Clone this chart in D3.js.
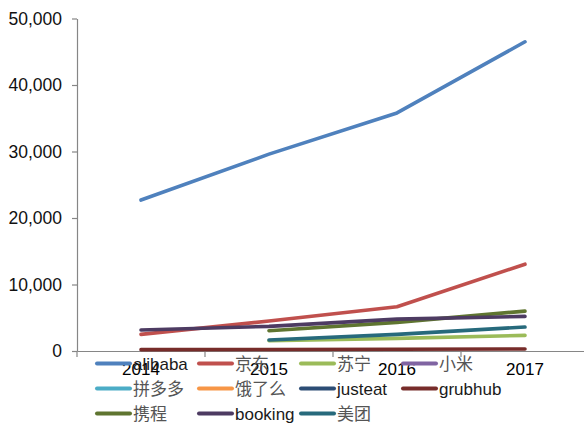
<!DOCTYPE html>
<html>
<head>
<meta charset="utf-8">
<script src="https://cdn.jsdelivr.net/npm/d3@7"></script>
<style>
  html, body { margin: 0; padding: 0; background: #fff; }
  svg { display: block; font-family: "Liberation Sans", Arial, "Noto Sans CJK SC", sans-serif; }
</style>
</head>
<body>
<svg id="chart" width="584" height="425"></svg>
<script>
const years = ["2014", "2015", "2016", "2017"];
const yTicks = [0, 10000, 20000, 30000, 40000, 50000];

const seriesNames = ["alibaba", "京东", "苏宁", "小米", "拼多多", "饿了么", "justeat", "grubhub", "携程", "booking", "美团"];
const seriesColors = ["#4F81BD", "#C0504D", "#9BBB59", "#8064A2", "#4BACC6", "#F79646", "#2C4D75", "#772C2A", "#5F7530", "#4D3B62", "#276A7C"];

const alibaba = [22700, 29600, 35800, 46500];
const jd      = [2500, 4500, 6650, 13050];
const suning  = [null, 1550, 1900, 2350];
const xiaomi  = [null, null, null, null];
const pdd     = [null, null, null, null];
const eleme   = [null, null, null, null];
const justeat = [null, null, null, null];
const grubhub = [200, 220, 260, 300];
const ctrip   = [null, 3050, 4300, 6000];
const booking = [3150, 3700, 4800, 5200];
const meituan = [null, 1650, 2500, 3600];

const seriesValues = [alibaba, jd, suning, xiaomi, pdd, eleme, justeat, grubhub, ctrip, booking, meituan];

const svg = d3.select("#chart");
const x = d3.scaleBand().domain(years).range([77, 589]).padding(0);
const y = d3.scaleLinear().domain([0, 50000]).range([351, 18.5]);

// Y axis
const yAxis = svg.append("g")
  .attr("transform", "translate(77,0)")
  .call(d3.axisLeft(y).tickValues(yTicks).tickFormat(d3.format(",")).tickSize(5).tickPadding(10).tickSizeOuter(0));
yAxis.select(".domain").attr("stroke", "#868686").attr("stroke-width", 1.2);
yAxis.selectAll(".tick line").attr("stroke", "#868686").attr("stroke-width", 1.2);
yAxis.selectAll(".tick text").attr("font-size", "17.5px").attr("fill", "#111")
  .attr("font-family", "'Liberation Sans', Arial, sans-serif");

// X axis
const xAxis = svg.append("g")
  .attr("transform", "translate(0,351)")
  .call(d3.axisBottom(x).tickSize(0).tickFormat(""));
xAxis.select(".domain").attr("stroke", "#868686").attr("stroke-width", 1.2);
const edges = years.map(d => x(d)).concat([x(years[years.length - 1]) + x.bandwidth()]);
xAxis.selectAll(".edgeTick").data(edges).enter().append("line")
  .attr("x1", d => d).attr("x2", d => d).attr("y1", 0).attr("y2", 6)
  .attr("stroke", "#868686").attr("stroke-width", 1.2);

// Lines
const line = d3.line()
  .defined(d => d.v !== null)
  .x(d => x(d.year) + x.bandwidth() / 2)
  .y(d => y(d.v));

seriesNames.forEach((name, i) => {
  const pts = years.map((yr, j) => ({ year: yr, v: seriesValues[i][j] }));
  svg.append("path")
    .datum(pts)
    .attr("fill", "none")
    .attr("stroke", seriesColors[i])
    .attr("stroke-width", 3.6)
    .attr("stroke-linecap", "round")
    .attr("stroke-linejoin", "round")
    .attr("d", line);
});

// X labels
svg.append("g").selectAll("text").data(years).enter().append("text")
  .attr("x", d => x(d) + x.bandwidth() / 2)
  .attr("y", 375)
  .attr("text-anchor", "middle")
  .attr("font-size", "17px")
  .attr("fill", "#000")
  .text(d => d);

// Legend
const legend = svg.append("g");
seriesNames.forEach((name, i) => {
  const col = i % 4, row = Math.floor(i / 4);
  const lx = 97 + col * 102;
  const ly = 363.5 + row * 25;
  legend.append("line")
    .attr("x1", lx).attr("x2", lx + 33)
    .attr("y1", ly).attr("y2", ly)
    .attr("stroke", seriesColors[i])
    .attr("stroke-width", 4)
    .attr("stroke-linecap", "round");
  const isCJK = /[\u4e00-\u9fff]/.test(name);
  legend.append("text")
    .attr("x", lx + 36)
    .attr("y", ly + 6)
    .attr("font-size", "17px")
    .attr("fill", isCJK ? "#555" : "#1a1a1a")
    .attr("font-family", isCJK ? "'Noto Sans CJK SC', sans-serif" : "'Liberation Sans', Arial, sans-serif")
    .text(name);
});
</script>
</body>
</html>
